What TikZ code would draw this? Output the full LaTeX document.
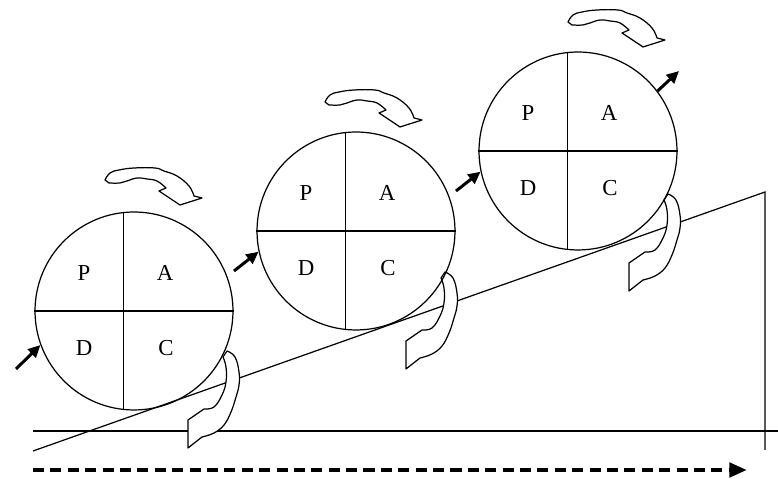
\documentclass[tikz,border=0pt]{standalone}
\usepackage{fontspec}
\setmainfont{Liberation Serif}
\usetikzlibrary{arrows.meta, calc}

\begin{document}
\begin{tikzpicture}[x=0.02cm, y=0.02cm, line width=0.7pt, font=\fontsize{13}{15}\selectfont]
\tikzset{
  wheel/.style={circle, draw, minimum size=3.96cm, inner sep=0pt},
  push/.style={-{Triangle[length=7pt,width=6.5pt]}, line width=1.7pt},
  trend/.style={line width=2.8pt, dash pattern=on 6.3pt off 3.6pt, -{Triangle[length=10pt,width=8pt]}},
  turnband/.style={draw, fill=white, line join=round},
  pics/overturn/.style={code={
    \path[turnband] plot[smooth, tension=0.7] coordinates {(-49,6) (-44,13) (-35,16) (-20,18) (1,18) (10,15) (23,10) (35,0) (40,-10)}
      -- (48,-12) -- (26,-19) -- (5,-5)
      -- plot[smooth, tension=0.7] coordinates {(12,-2) (3,5) (-7,7) (-17,8) (-27,5) (-34,3) (-45,3)} -- cycle;
  }},
  pics/backturn/.style={code={
    \path[turnband] plot[smooth, tension=0.7] coordinates {(18,46) (26,40) (30,25) (30,12) (27,0) (22,-15) (15,-28) (5,-36) (-7,-40)}
      -- (-21,-51) -- (-21,-23)
      -- plot[smooth, tension=0.7] coordinates {(-5,-12) (5,-10) (13,2) (17,15) (17,30) (14,40)} -- cycle;
  }}
}
\useasboundingbox (0,0) rectangle (778,479);

% ground, slope and time axis
\coordinate (g0) at (33,48);
\coordinate (g1) at (778,48);
\coordinate (s0) at (33,28);
\coordinate (s1) at (765,287);
\coordinate (s2) at (765,29);
\coordinate (d0) at (33,9);
\coordinate (d1) at (747,9);
\draw (g0) -- (g1);
\draw (s0) -- (s1) -- (s2);
\draw[trend] (d0) -- (d1);

% wedges under the wheels
\pic at (209,82) {backturn};
\pic at (427,161) {backturn};
\pic at (650,239) {backturn};

% turning arrows
\pic at (154,293) {overturn};
\pic at (374,371) {overturn};
\pic at (617,451) {overturn};

\node[wheel] (c1) at (134,168) {};
\node[wheel] (c2) at (356,248) {};
\node[wheel] (c3) at (578,328) {};

\foreach \i in {1,2,3} {
  \draw (c\i.west) -- (c\i.east);
  \draw (c\i.96) -- (c\i.264);
  \node (p\i) at ($(c\i)+(-50,38)$) {P};
  \node (a\i) at ($(c\i)+(31,38)$) {A};
  \node (d\i) at ($(c\i)+(-50,-37)$) {D};
  \node (k\i) at ($(c\i)+(32,-37)$) {C};
}

\coordinate (in1) at (16,110);
\coordinate (in2) at (234,208);
\coordinate (in3) at (456,288);
\coordinate (out3) at (679,408);
\draw[push] (in1) -- (c1.200);
\draw[push] (in2) -- (c2.192);
\draw[push] (in3) -- (c3.192);
\draw[push] (c3.37) -- (out3);

\end{tikzpicture}
\end{document}
